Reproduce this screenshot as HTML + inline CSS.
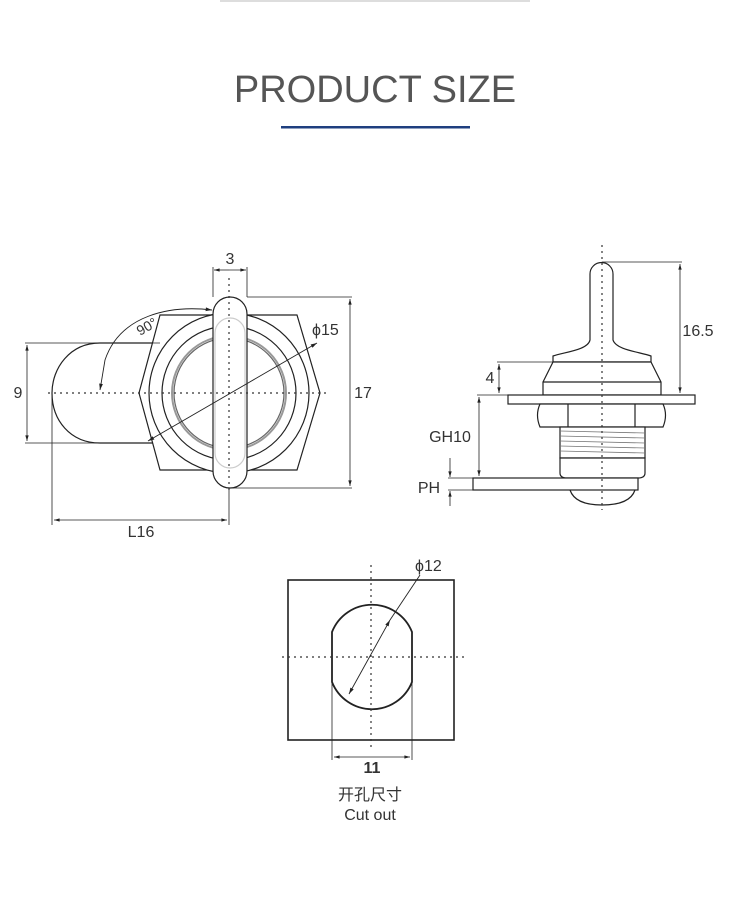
<!DOCTYPE html>
<html><head><meta charset="utf-8"><style>
html,body{margin:0;padding:0;background:#fff;}
svg{display:block;}
text{font-family:"Liberation Sans","Noto Sans CJK SC",sans-serif;fill:#333;}
</style></head><body>
<svg width="750" height="912" viewBox="0 0 750 912" xmlns="http://www.w3.org/2000/svg">
<defs>
<marker id="a" viewBox="0 0 10 10" refX="10" refY="5" markerWidth="12" markerHeight="7" orient="auto-start-reverse"><path d="M0,2 L10,5 L0,8 Z" fill="#222"/></marker>
</defs>
<line x1="220" y1="1" x2="530" y2="1" stroke="#ddd" stroke-width="2"/>
<text x="375" y="102" font-size="38" text-anchor="middle" style="fill:#555">PRODUCT SIZE</text>
<rect x="281" y="126" width="189" height="2.5" fill="#1f3f7f"/>

<g fill="none" stroke="#222" stroke-width="1.2">
<!-- LEFT VIEW -->
<path d="M160,343 L100,343 C70,343 52,368 52,393 C52,420 70,443 100,443 L160,443" fill="#fff"/>
<path d="M160,315 L297,315 L320,393 L297,470 L160,470 L139,393 Z" fill="#fff"/>
<circle cx="229" cy="393" r="80" fill="#fff"/>
<circle cx="229" cy="393" r="67"/>
<circle cx="229" cy="393" r="57" stroke="#999" stroke-width="2"/>
<circle cx="229" cy="393" r="55" stroke="#666"/>
<rect x="213" y="297" width="34" height="191" rx="17" fill="#fff"/>
<rect x="215" y="318" width="30" height="150" rx="15" stroke="#ccc"/>
<g stroke-dasharray="2,4" stroke="#333">
<line x1="48" y1="393" x2="328" y2="393"/>
<line x1="229" y1="278" x2="229" y2="490"/>
</g>
<!-- dims -->
<line x1="25" y1="343" x2="160" y2="343" stroke-width="0.8"/>
<line x1="25" y1="443" x2="150" y2="443" stroke-width="0.8"/>
<line x1="27" y1="345" x2="27" y2="441" stroke-width="0.8" marker-start="url(#a)" marker-end="url(#a)"/>
<line x1="213" y1="267" x2="213" y2="297" stroke-width="0.8"/>
<line x1="247" y1="267" x2="247" y2="297" stroke-width="0.8"/>
<line x1="214" y1="270" x2="229" y2="270" stroke-width="0.8" marker-start="url(#a)"/>
<line x1="229" y1="270" x2="246" y2="270" stroke-width="0.8" marker-end="url(#a)"/>
<line x1="247" y1="297" x2="352" y2="297" stroke-width="0.8"/>
<line x1="229" y1="488" x2="352" y2="488" stroke-width="0.8"/>
<line x1="350" y1="299" x2="350" y2="486" stroke-width="0.8" marker-start="url(#a)" marker-end="url(#a)"/>
<line x1="52" y1="393" x2="52" y2="525" stroke-width="0.8"/>
<line x1="229" y1="488" x2="229" y2="525" stroke-width="0.8"/>
<line x1="54" y1="520" x2="227" y2="520" stroke-width="0.8" marker-start="url(#a)" marker-end="url(#a)"/>
<line x1="148" y1="441" x2="317" y2="343" stroke-width="0.9" marker-start="url(#a)" marker-end="url(#a)"/>
<path d="M212,310 C170,305 120,315 105,360 L100,390" stroke-width="0.9" marker-start="url(#a)" marker-end="url(#a)"/>

<!-- RIGHT VIEW -->
<path d="M590,274 A11.5,11.5 0 0 1 613,274 L613,340 C616,350 640,352 651,356 L651,362 L553,362 L553,356 C565,352 588,350 590,340 Z" fill="#fff"/>
<path d="M553,362 L651,362 L661,382 L661,395 L543,395 L543,382 Z" fill="#fff"/>
<line x1="543" y1="382" x2="661" y2="382"/>
<rect x="508" y="395" width="187" height="9" fill="#fff"/>
<path d="M540,404 L663,404 Q668,415 663,427 L540,427 Q535,415 540,404 Z" fill="#fff"/>
<line x1="568" y1="404" x2="568" y2="427"/>
<line x1="635" y1="404" x2="635" y2="427"/>
<rect x="560" y="427" width="85" height="31" fill="#fff"/>
<g stroke="#777" stroke-width="0.8">
<line x1="560" y1="431" x2="645" y2="433"/><line x1="560" y1="436" x2="645" y2="438"/>
<line x1="560" y1="441" x2="645" y2="443"/><line x1="560" y1="446" x2="645" y2="448"/>
<line x1="560" y1="451" x2="645" y2="453"/>
</g>
<path d="M560,458 L645,458 L645,473 Q645,478 638,478 L567,478 Q560,478 560,473 Z" fill="#fff"/>
<rect x="473" y="478" width="165" height="12" fill="#fff"/>
<path d="M570,490 Q575,505 602,505 Q630,505 635,490"/>
<g stroke-dasharray="2,4" stroke="#333"><line x1="602" y1="245" x2="602" y2="510"/></g>
<line x1="602" y1="262" x2="682" y2="262" stroke-width="0.8"/>
<line x1="680" y1="264" x2="680" y2="393" stroke-width="0.8" marker-start="url(#a)" marker-end="url(#a)"/>
<line x1="497" y1="362" x2="553" y2="362" stroke-width="0.8"/>
<line x1="499" y1="364" x2="499" y2="393" stroke-width="0.8" marker-start="url(#a)" marker-end="url(#a)"/>
<line x1="477" y1="395" x2="508" y2="395" stroke-width="0.8"/>
<line x1="479" y1="397" x2="479" y2="476" stroke-width="0.8" marker-start="url(#a)" marker-end="url(#a)"/>
<line x1="448" y1="478" x2="473" y2="478" stroke-width="0.8"/>
<line x1="448" y1="490" x2="473" y2="490" stroke-width="0.8"/>
<line x1="450" y1="458" x2="450" y2="477" stroke-width="0.8" marker-end="url(#a)"/>
<line x1="450" y1="506" x2="450" y2="491" stroke-width="0.8" marker-end="url(#a)"/>

<!-- CUTOUT -->
<rect x="288" y="580" width="166" height="160" stroke-width="1.6"/>
<path d="M332,632 A43,43 0 0 1 412,632 L412,682 A43,43 0 0 1 332,682 Z" stroke-width="1.8"/>
<g stroke-dasharray="2,4" stroke="#333">
<line x1="282" y1="657" x2="465" y2="657"/>
<line x1="371" y1="565" x2="371" y2="750"/>
</g>
<line x1="332" y1="682" x2="332" y2="760" stroke-width="0.8"/>
<line x1="412" y1="682" x2="412" y2="760" stroke-width="0.8"/>
<line x1="334" y1="757" x2="410" y2="757" stroke-width="0.8" marker-start="url(#a)" marker-end="url(#a)"/>
<line x1="349" y1="694" x2="390" y2="620" stroke-width="0.9" marker-start="url(#a)" marker-end="url(#a)"/>
<line x1="390" y1="620" x2="420" y2="575" stroke-width="0.9"/>
</g>

<g font-size="16">
<text x="18" y="398" text-anchor="middle">9</text>
<text x="230" y="264" text-anchor="middle">3</text>
<text x="363" y="398" text-anchor="middle">17</text>
<text x="141" y="537" text-anchor="middle">L16</text>
<text x="312" y="335">ϕ15</text>
<text x="0" y="0" transform="translate(140,336) rotate(-30)" font-size="14">90°</text>
<text x="698" y="336" text-anchor="middle">16.5</text>
<text x="490" y="383" text-anchor="middle">4</text>
<text x="450" y="442" text-anchor="middle">GH10</text>
<text x="429" y="493" text-anchor="middle">PH</text>
<text x="415" y="571">ϕ12</text>
<text x="372" y="773" text-anchor="middle" font-weight="bold">11</text>
<text x="370" y="800" text-anchor="middle">开孔尺寸</text>
<text x="370" y="820" text-anchor="middle">Cut out</text>
</g>
</svg>
</body></html>
